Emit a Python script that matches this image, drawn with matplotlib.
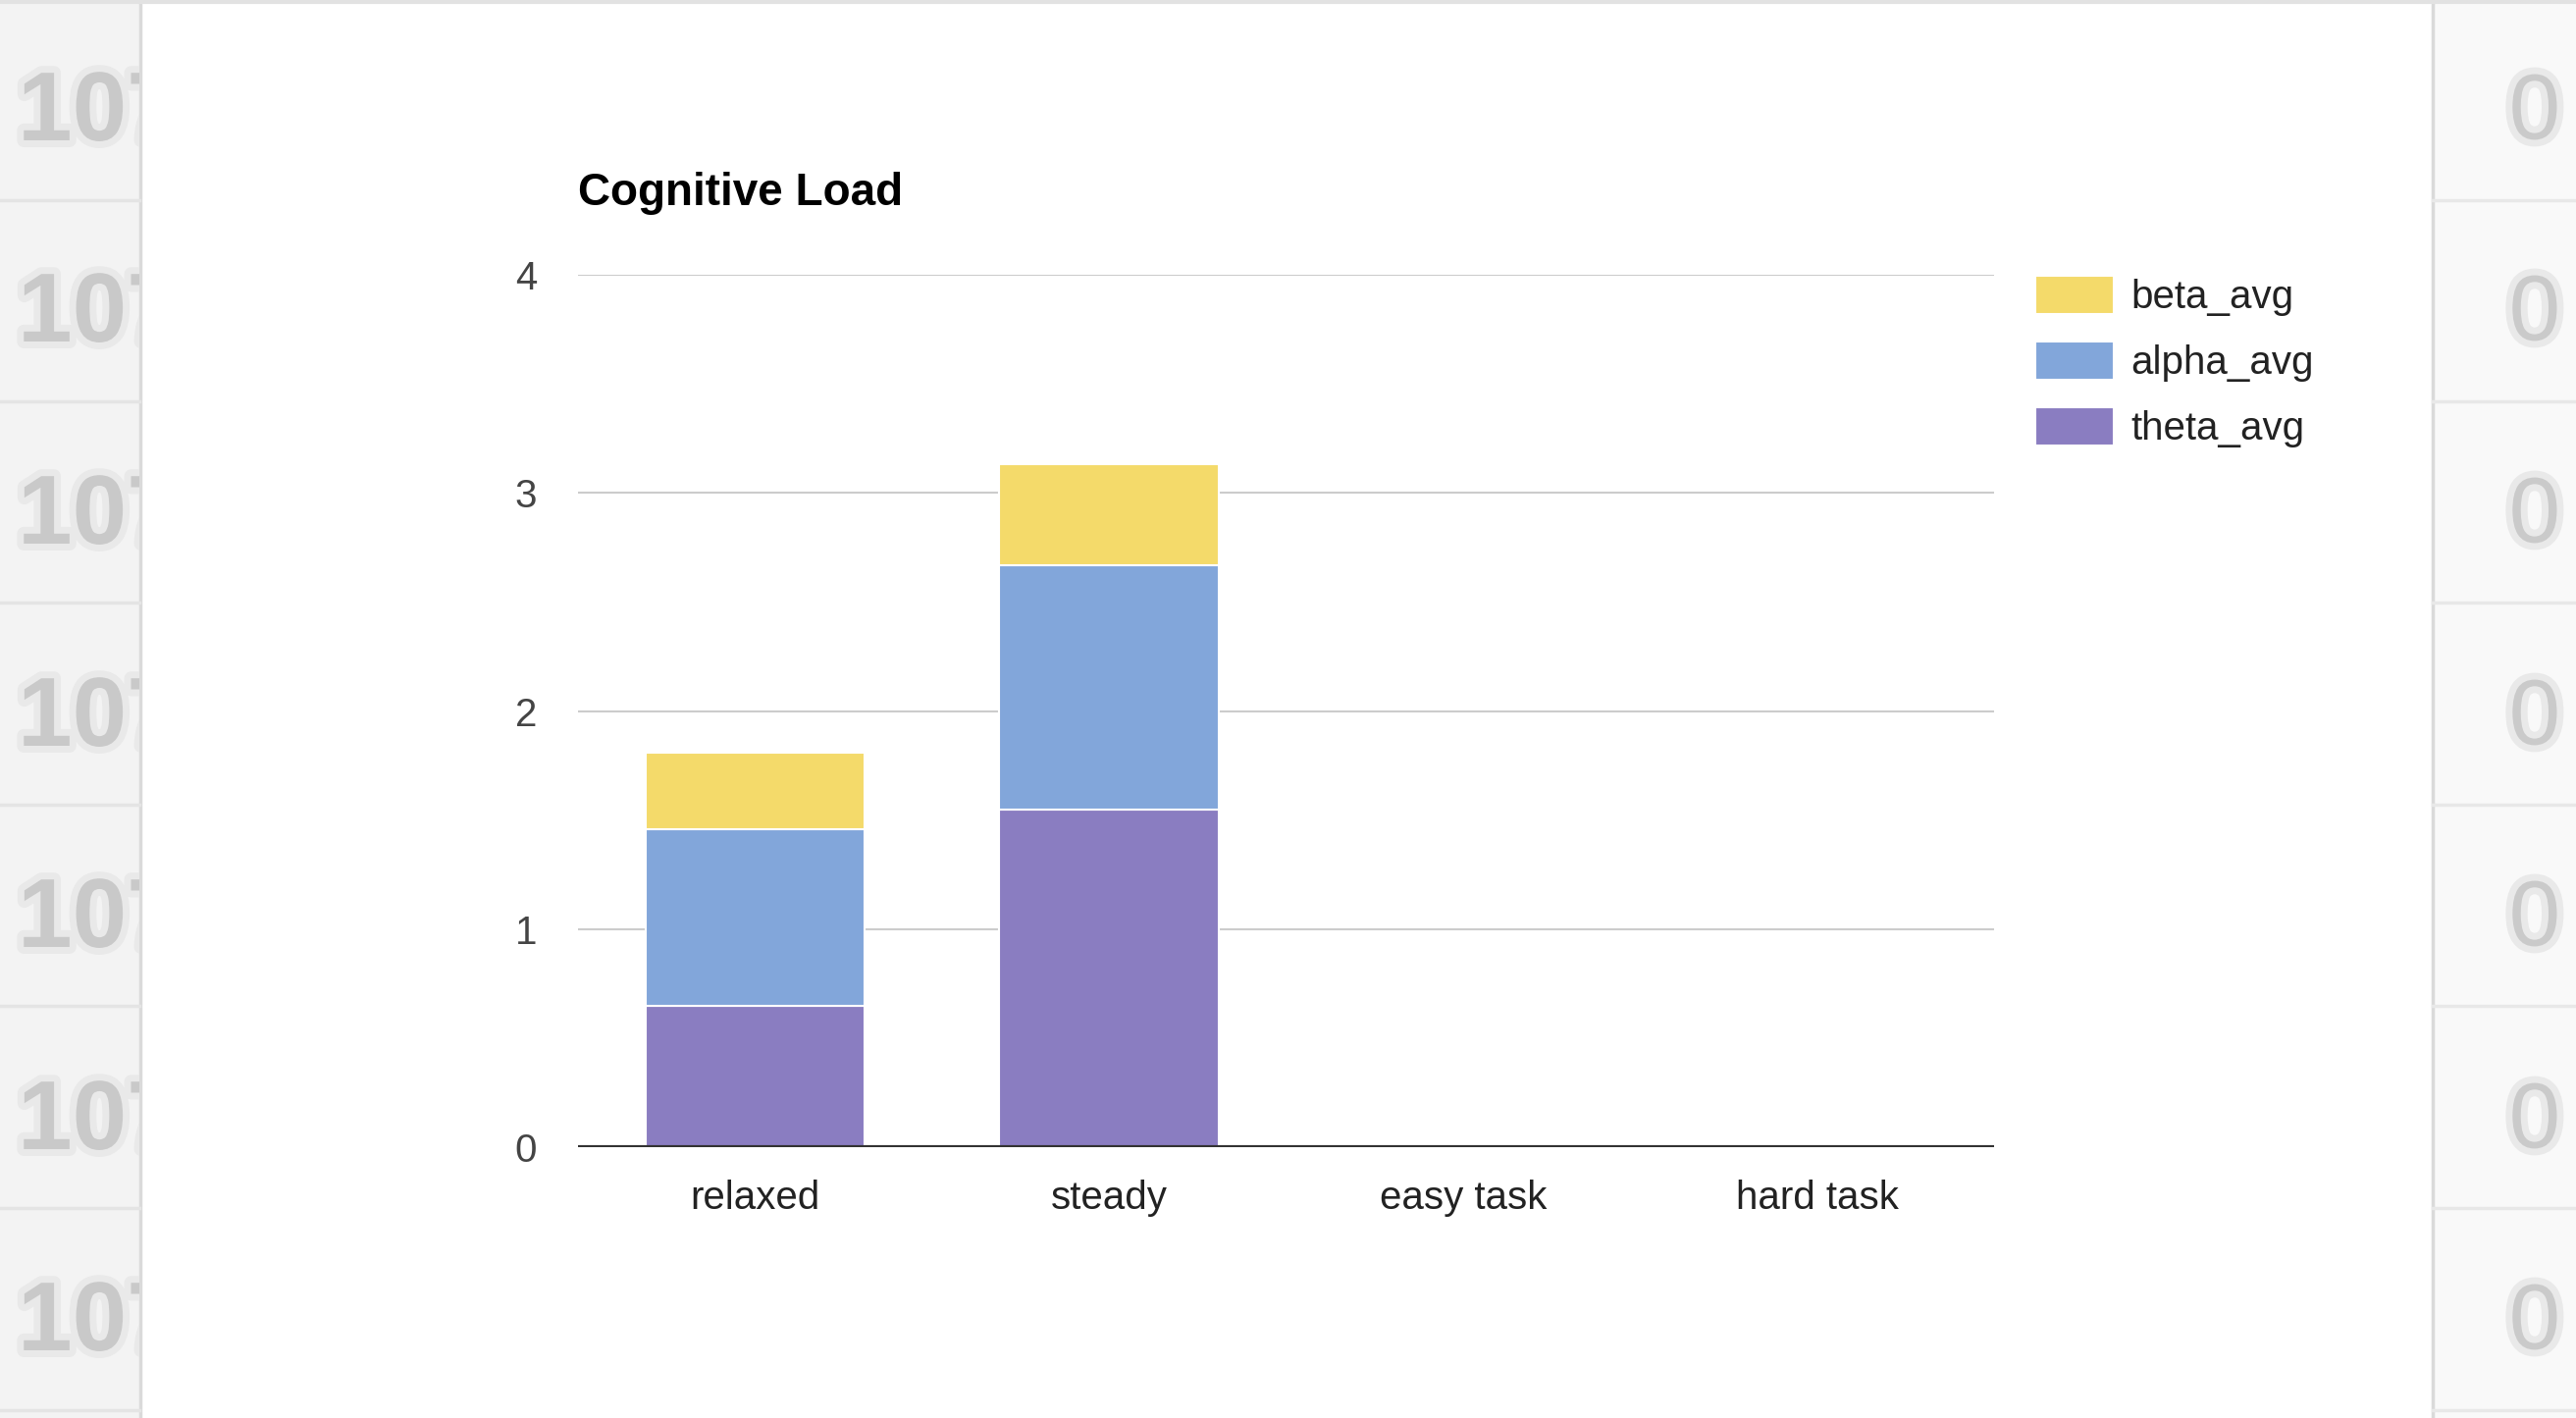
import matplotlib
matplotlib.use('Agg')
from matplotlib import pyplot as plt
from matplotlib.patches import Rectangle
import matplotlib.patheffects as pe
import numpy as np

categories = ['relaxed', 'steady', 'easy task', 'hard task']
theta_avg = [0.65, 1.55, 0, 0]
alpha_avg = [0.81, 1.12, 0, 0]
beta_avg = [0.35, 0.46, 0, 0]
y_ticks = [0, 1, 2, 3, 4]

theta_color = '#8a7dc1'
alpha_color = '#82a6da'
beta_color = '#f4da6a'

plt.rcParams['font.family'] = ['Liberation Sans', 'DejaVu Sans']

W, H = 2625, 1445
fig = plt.figure(figsize=(W / 100, H / 100), dpi=100)
fig.patch.set_facecolor('white')

# blurred spreadsheet behind the chart
bg = fig.add_axes([0, 0, 1, 1], zorder=-2)
bg.set_xlim(0, W)
bg.set_ylim(H, 0)
bg.axis('off')
bg.add_patch(Rectangle((0, 0), 142, H, facecolor='#f3f3f3', edgecolor='none'))
bg.add_patch(Rectangle((2479, 0), W - 2479, H, facecolor='#f9f9f9', edgecolor='none'))
bg.axvline(143, color='#dadada', lw=2.5)
bg.axvline(2479, color='#dadada', lw=2.5)
bg.axhline(2, color='#e2e2e2', lw=3)
row_lines = [204, 409, 614, 820, 1025, 1231, 1437]
for y in row_lines:
    bg.plot([0, 142], [y, y], color='#e4e4e4', lw=2.5)
    bg.plot([2479, W], [y, y], color='#e8e8e8', lw=2.5)

blur = [pe.withStroke(linewidth=10, foreground='#e9e9e9')]
left = fig.add_axes([0, 0, 142 / W, 1], zorder=-1)
left.set_xlim(0, 142)
left.set_ylim(H, 0)
left.axis('off')
right = fig.add_axes([2479 / W, 0, (W - 2479) / W, 1], zorder=-1)
right.set_xlim(2479, W)
right.set_ylim(H, 0)
right.axis('off')
row_centers = [117, 322, 528, 734, 939, 1145, 1350]
for y in row_centers:
    left.text(18, y, '107', fontsize=72, fontweight='bold', color='#c9c9c9',
              ha='left', va='center', clip_on=True, path_effects=blur)
    right.text(2583, y, '0', fontsize=68, color='#cacaca',
               ha='center', va='center', clip_on=True, path_effects=blur)

# chart
ax = fig.add_axes([589 / W, 276 / H, 1443 / W, 889 / H])
x = np.arange(len(categories))
width = 0.62
b_theta = ax.bar(x, theta_avg, width, color=theta_color, edgecolor='white', linewidth=1.5,
                 label='theta_avg', zorder=2)
b_alpha = ax.bar(x, alpha_avg, width, bottom=theta_avg, color=alpha_color, edgecolor='white',
                 linewidth=1.5, label='alpha_avg', zorder=2)
b_beta = ax.bar(x, beta_avg, width, bottom=np.add(theta_avg, alpha_avg), color=beta_color,
                edgecolor='white', linewidth=1.5, label='beta_avg', zorder=2)

ax.set_xlim(-0.5, len(categories) - 0.5)
ax.set_ylim(0, 4)
ax.set_yticks(y_ticks)
ax.set_xticks(x)
ax.set_xticklabels(categories)
for s in ax.spines.values():
    s.set_visible(False)
ax.grid(axis='y', color='#cccccc', lw=1.5, zorder=0)
ax.set_axisbelow(True)
ax.axhline(0, color='#333333', lw=3, zorder=4)
ax.tick_params(axis='both', length=0, labelsize=29)
ax.tick_params(axis='y', pad=30, labelcolor='#444444')
ax.tick_params(axis='x', pad=24, labelcolor='#222222')

ax.set_title('Cognitive Load', loc='left', fontsize=33, fontweight='bold', pad=51)

ax.legend(handles=[b_beta, b_alpha, b_theta], loc='upper left',
          bbox_to_anchor=(1.029, 0.999), frameon=False, fontsize=29,
          handlelength=2.0, handleheight=1.1, handletextpad=0.42,
          labelspacing=0.65, borderpad=0, borderaxespad=0, labelcolor='#222222')

fig.savefig('out.png', dpi=100)
